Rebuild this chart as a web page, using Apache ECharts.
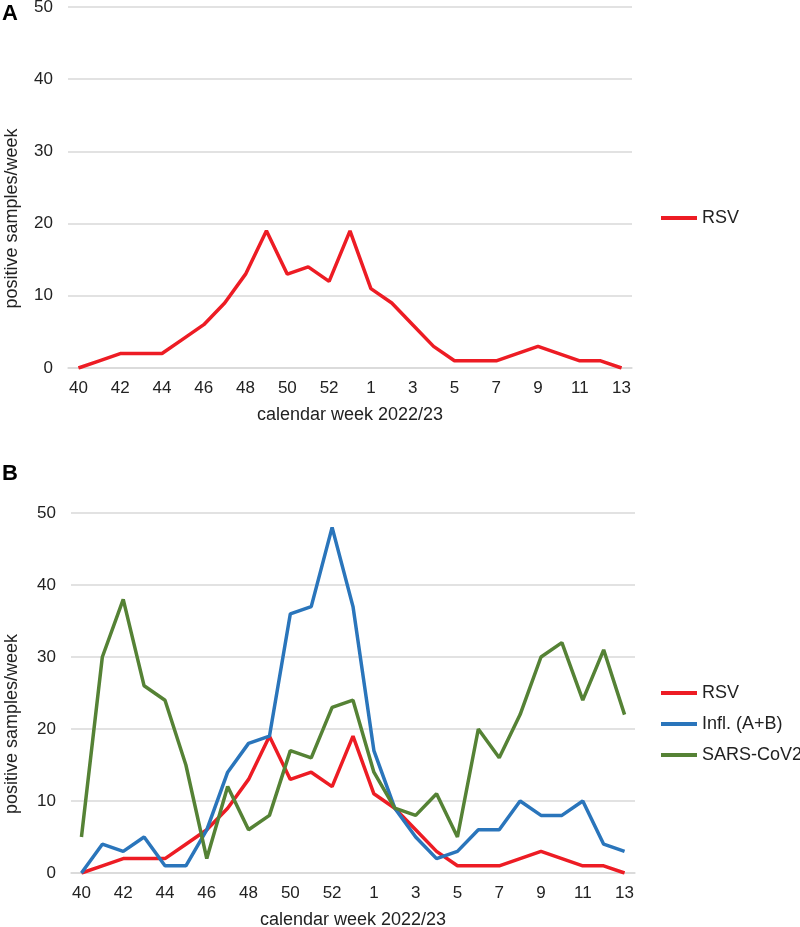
<!DOCTYPE html>
<html><head><meta charset="utf-8">
<script src="https://cdn.jsdelivr.net/npm/echarts@6/dist/echarts.min.js"></script>
<style>html,body{margin:0;padding:0;background:#fff}#c{width:800px;height:927px}</style>
</head><body><div id="c"></div>
<script>
const weeks = ['40','41','42','43','44','45','46','47','48','49','50','51','52','53','1','2','3','4','5','6','7','8','9','10','11','12','13'];
const rsv   = [0,1,2,2,2,4,6,9,13,19,13,14,12,19,11,9,6,3,1,1,1,2,3,2,1,1,0];
const infl  = [0,4,3,5,1,1,6,14,18,19,36,37,48,37,17,9,5,2,3,6,6,10,8,8,10,4,3];
const sars  = [5,30,38,26,24,15,2,12,6,8,17,16,23,24,14,9,8,11,5,20,16,22,30,32,24,31,22];
const yTicks = {min:0, max:50, interval:10};

const FONT = '"Liberation Sans", Arial, sans-serif';
const colors = {RSV:'#ed1c24', 'Infl. (A+B)':'#2a75bb', 'SARS-CoV2':'#558235'};

function xAx(gi){
  return {type:'category', gridIndex:gi, data:weeks, boundaryGap:true,
    axisLine:{show:true, lineStyle:{color:'#d9d9d9', width:1.5}}, axisTick:{show:false},
    axisLabel:{interval:1, color:'#222', fontSize:17, fontFamily:FONT, margin:12},
    name:'calendar week 2022/23', nameLocation:'middle', nameGap:38,
    nameTextStyle:{color:'#222', fontSize:18, fontFamily:FONT}};
}
function yAx(gi, gap){
  return {type:'value', gridIndex:gi, min:yTicks.min, max:yTicks.max, interval:yTicks.interval,
    axisLine:{show:false}, axisTick:{show:false},
    splitLine:{lineStyle:{color:'#d9d9d9', width:1.5}},
    axisLabel:{color:'#222', fontSize:17, fontFamily:FONT, margin:15},
    name:'positive samples/week', nameLocation:'middle', nameGap:gap,
    nameTextStyle:{color:'#222', fontSize:18, fontFamily:FONT, padding:[0,62,0,0]}};
}
function ser(name, data, gi){
  return {name, type:'line', data, xAxisIndex:gi, yAxisIndex:gi, symbol:'none',
    lineStyle:{width:3.5, color:colors[name]}, itemStyle:{color:colors[name]}, animation:false};
}
const legendCommon = {orient:'vertical', icon:'rect', itemWidth:36, itemHeight:4, itemGap:13, padding:0,
  textStyle:{color:'#222', fontSize:18, fontFamily:FONT, lineHeight:18}};

const chart = echarts.init(document.getElementById('c'), null, {renderer:'canvas'});
chart.setOption({
  animation:false,
  graphic:[
    {type:'text', left:2, top:3, style:{text:'A', font:'bold 22px "Liberation Sans", Arial, sans-serif', fill:'#000'}},
    {type:'text', left:2, top:463, style:{text:'B', font:'bold 22px "Liberation Sans", Arial, sans-serif', fill:'#000'}}
  ],
  grid:[
    {left:68, right:168, top:7, height:361, outerBoundsMode:'none', containLabel:false},
    {left:71, right:165, top:513, height:360, outerBoundsMode:'none', containLabel:false}
  ],
  xAxis:[xAx(0), xAx(1)],
  yAxis:[yAx(0, 47), yAx(1, 50)],
  legend:[
    Object.assign({}, legendCommon, {left:661, top:209, data:['RSV']}),
    Object.assign({}, legendCommon, {left:661, top:684, data:['RSV','Infl. (A+B)','SARS-CoV2'],
      selectedMode:false})
  ],
  series:[
    ser('RSV', rsv, 0),
    ser('RSV', rsv, 1),
    ser('Infl. (A+B)', infl, 1),
    ser('SARS-CoV2', sars, 1)
  ]
});
</script></body></html>
